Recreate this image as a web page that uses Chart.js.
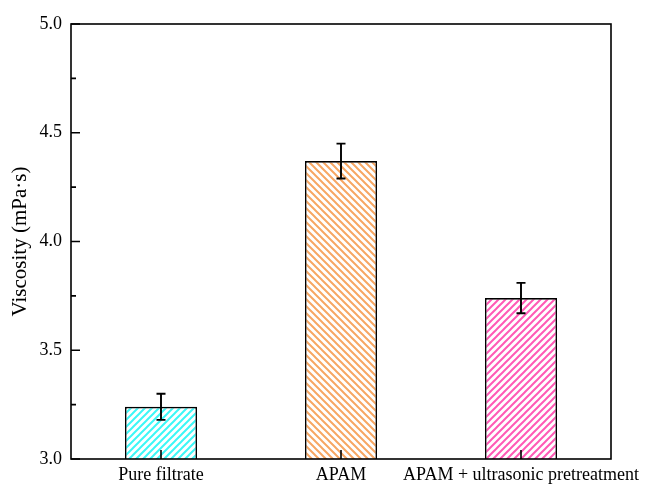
<!DOCTYPE html>
<html>
<head>
<meta charset="utf-8">
<script src="https://cdn.jsdelivr.net/npm/chart.js@4/dist/chart.umd.min.js"></script>
<style>
  html, body { margin: 0; padding: 0; background: #fff; }
  #wrap { width: 646px; height: 485px; }
</style>
</head>
<body>
<div id="wrap"><canvas id="c" width="646" height="485"></canvas></div>
<script>
// Viscosity of the filtrate under each treatment
const categories = ['Pure filtrate', 'APAM', 'APAM + ultrasonic pretreatment'];
const viscosity = [3.24, 4.37, 3.74];
const viscosityError = [0.06, 0.08, 0.07];
const hatchColors = ['#3CF7F7', '#F7A763', '#FF5AB6'];
const hatchDirections = ['/', '\\', '/'];
const yTicks = [3.0, 3.5, 4.0, 4.5, 5.0];
const yMinorTicks = [3.25, 3.75, 4.25, 4.75];

const FONT = '"Liberation Serif", "Times New Roman", serif';

function makeHatch(color, dir) {
  const s = 7;
  const c = document.createElement('canvas');
  c.width = s; c.height = s;
  const g = c.getContext('2d');
  g.fillStyle = '#fff';
  g.fillRect(0, 0, s, s);
  g.strokeStyle = color;
  g.lineWidth = 2;
  g.beginPath();
  if (dir === '/') {
    g.moveTo(-1, s + 1); g.lineTo(s + 1, -1);
    g.moveTo(-1, 1); g.lineTo(1, -1);
    g.moveTo(s - 1, s + 1); g.lineTo(s + 1, s - 1);
  } else {
    g.moveTo(-1, -1); g.lineTo(s + 1, s + 1);
    g.moveTo(-1, s - 1); g.lineTo(1, s + 1);
    g.moveTo(s - 1, -1); g.lineTo(s + 1, 1);
  }
  g.stroke();
  return document.getElementById('c').getContext('2d').createPattern(c, 'repeat');
}

const patterns = hatchColors.map((col, i) => makeHatch(col, hatchDirections[i]));

// Frame, inward ticks and error bars
const decorations = {
  id: 'decorations',
  afterDatasetsDraw(chart) {
    const { ctx, chartArea: a, scales: { x, y } } = chart;
    ctx.save();
    ctx.strokeStyle = '#000';
    ctx.lineCap = 'butt';

    // error bars
    ctx.lineWidth = 1.9;
    viscosity.forEach((v, i) => {
      const px = x.getPixelForValue(i);
      const top = y.getPixelForValue(v + viscosityError[i]);
      const bot = y.getPixelForValue(v - viscosityError[i]);
      ctx.beginPath();
      ctx.moveTo(px, top); ctx.lineTo(px, bot);
      ctx.moveTo(px - 4.5, top); ctx.lineTo(px + 4.5, top);
      ctx.moveTo(px - 4.5, bot); ctx.lineTo(px + 4.5, bot);
      ctx.stroke();
    });

    // frame
    ctx.lineWidth = 1.6;
    ctx.strokeRect(a.left, a.top, a.right - a.left, a.bottom - a.top);

    // y ticks (inward)
    ctx.beginPath();
    yTicks.forEach(t => {
      const py = y.getPixelForValue(t);
      ctx.moveTo(a.left, py); ctx.lineTo(a.left + 9, py);
    });
    yMinorTicks.forEach(t => {
      const py = y.getPixelForValue(t);
      ctx.moveTo(a.left, py); ctx.lineTo(a.left + 5, py);
    });
    // x ticks (inward)
    categories.forEach((_, i) => {
      const px = x.getPixelForValue(i);
      ctx.moveTo(px, a.bottom); ctx.lineTo(px, a.bottom - 9);
    });
    ctx.stroke();
    ctx.restore();
  }
};

new Chart(document.getElementById('c'), {
  type: 'bar',
  data: {
    labels: categories,
    datasets: [{
      data: viscosity,
      backgroundColor: patterns,
      borderColor: '#000',
      borderWidth: 1.6,
      categoryPercentage: 1,
      barPercentage: 0.4
    }]
  },
  options: {
    responsive: false,
    animation: false,
    events: [],
    layout: { padding: { left: 0, top: 24, right: 35, bottom: 0 } },
    plugins: { legend: { display: false }, tooltip: { enabled: false } },
    scales: {
      x: {
        grid: { display: false, drawTicks: false },
        border: { display: false },
        ticks: { color: '#000', font: { family: FONT, size: 18 }, padding: 5, maxRotation: 0, autoSkip: false },
        afterFit(s) { s.height = 26; s.paddingLeft = 0; s.paddingRight = 0; }
      },
      y: {
        min: 3.0,
        max: 5.0,
        grid: { display: false, drawTicks: false },
        border: { display: false },
        afterBuildTicks(s) { s.ticks = yTicks.map(v => ({ value: v })); },
        ticks: {
          color: '#000',
          font: { family: FONT, size: 18 },
          padding: 9,
          callback: v => v.toFixed(1)
        },
        title: {
          display: true,
          text: 'Viscosity (mPa·s)',
          color: '#000',
          font: { family: FONT, size: 21 },
          padding: { top: 8, bottom: 0 }
        },
        afterFit(s) { s.width = 71; s.paddingTop = 0; s.paddingBottom = 0; }
      }
    }
  },
  plugins: [decorations]
});
</script>
</body>
</html>
